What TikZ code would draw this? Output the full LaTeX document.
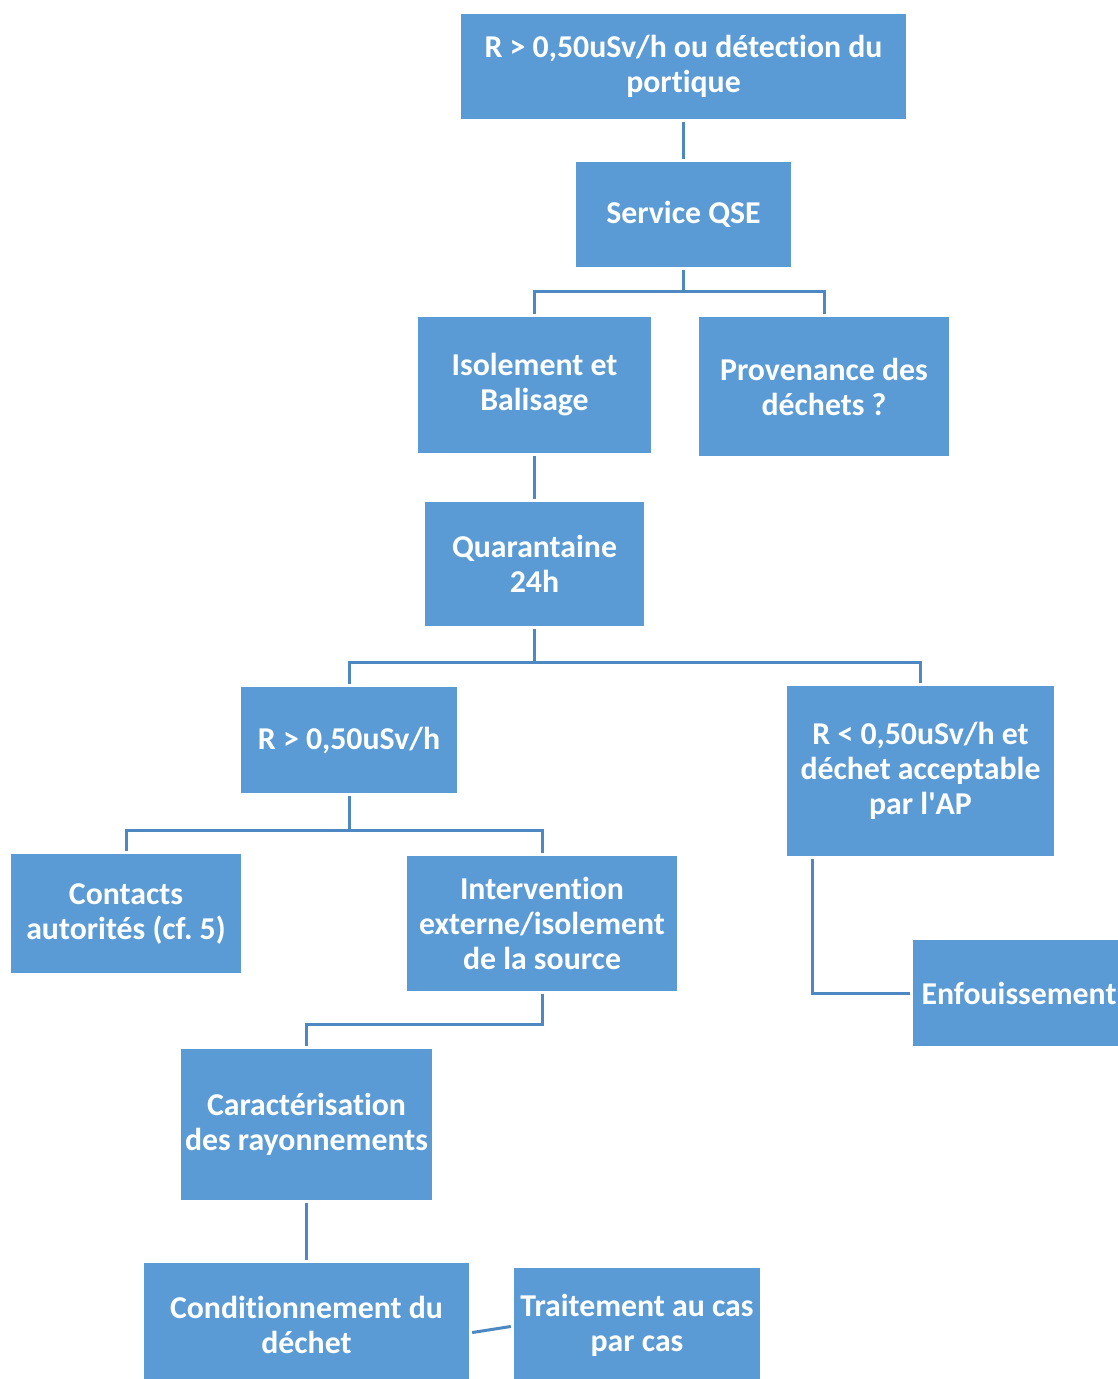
\documentclass[tikz,border=0pt]{standalone}
\usepackage{fontspec}
\setmainfont[Ligatures=NoCommon]{Carlito}
\usepackage{tikz}
\usetikzlibrary{calc}

\definecolor{boxblue}{HTML}{5B9BD5}
\definecolor{lineblue}{HTML}{4E88C2}

\tikzset{
    stepbox/.style={rectangle, fill=boxblue, text=white, inner sep=0pt, align=center,
        font=\bfseries\fontsize{31.8}{35}\selectfont},
    link/.style={draw=lineblue, line width=3pt, shorten <=3pt, shorten >=3pt}
}

\begin{document}
\begin{tikzpicture}[x=1pt, y=-1pt]
        \useasboundingbox (0,0) rectangle (1118,1379);

        \node[stepbox, minimum width=445pt, minimum height=105pt] (alerte) at (683.5,66.5) {R > 0,50uSv/h ou détection du\\portique};
        \node[stepbox, minimum width=215pt, minimum height=105pt] (qse) at (683.5,214.5) {Service QSE};
        \node[stepbox, minimum width=233pt, minimum height=136pt] (isol) at (534.5,385) {Isolement et\\Balisage};
        \node[stepbox, minimum width=250pt, minimum height=139pt] (prov) at (824,386.5) {Provenance des\\déchets ?};
        \node[stepbox, minimum width=219pt, minimum height=124pt] (quar) at (534.5,564) {Quarantaine\\24h};
        \node[stepbox, minimum width=216pt, minimum height=106pt] (haut) at (349,740) {R > 0,50uSv/h};
        \node[stepbox, minimum width=267pt, minimum height=170pt] (bas) at (920.5,771) {R < 0,50uSv/h et\\déchet acceptable\\par l\textquotesingle AP};
        \node[stepbox, minimum width=230pt, minimum height=119pt] (contacts) at (126,913.5) {Contacts\\autorités (cf.\ 5)};
        \node[stepbox, minimum width=270pt, minimum height=135pt] (interv) at (542,923.5) {Intervention\\externe/isolement\\de la source};
        \node[stepbox, minimum width=212pt, minimum height=106pt] (enfouis) at (1019,993) {Enfouissement};
        \node[stepbox, minimum width=251pt, minimum height=151pt] (carac) at (306.5,1124.5) {Caractérisation\\des rayonnements};
        \node[stepbox, minimum width=325pt, minimum height=124pt] (condit) at (306.5,1325) {Conditionnement du\\déchet};
        \node[stepbox, minimum width=246pt, minimum height=114pt] (traite) at (637,1325) {Traitement au cas\\par cas};

        \draw[link] (alerte) -- (qse);
        \draw[link] (qse.south) -- ++(0,24) -| (isol.north);
        \draw[link] (qse.south) -- ++(0,24) -| (prov.north);
        \draw[link] (isol) -- (quar);
        \draw[link] (quar.south) -- ++(0,36) -| (haut.north);
        \draw[link] (quar.south) -- ++(0,36) -| (bas.north);
        \draw[link] (haut.south) -- ++(0,37) -| (contacts.north);
        \draw[link] (haut.south) -- ++(0,37) -| (interv.north);
        \draw[link] ([xshift=26pt]bas.south west) |- (enfouis.west);
        \draw[link] (interv.south) -- ++(0,33) -| (carac.north);
        \draw[link] (carac) -- (condit);
        \draw[link] ([yshift=-8pt]condit.east) -- ([yshift=-1pt]traite.west);
    \end{tikzpicture}
\end{document}
